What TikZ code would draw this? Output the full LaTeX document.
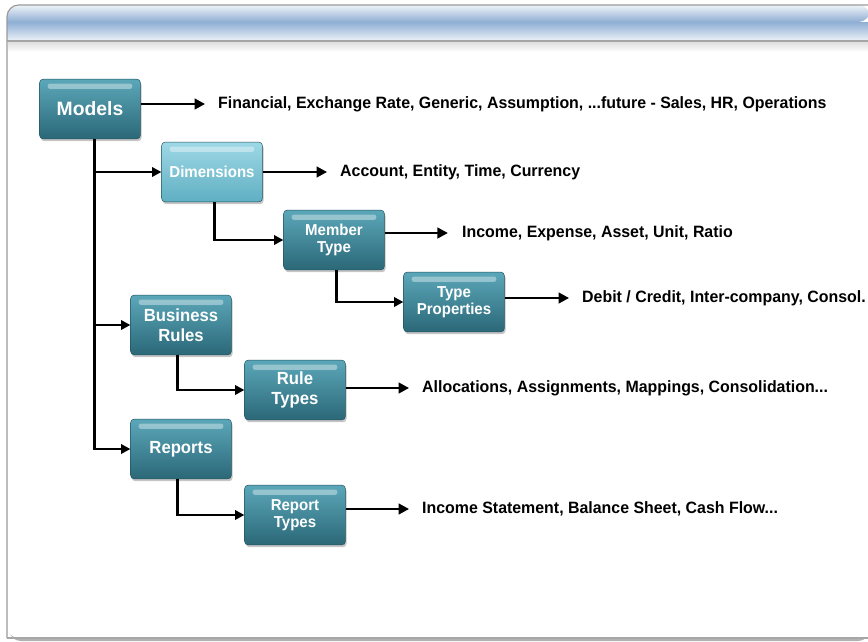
\documentclass[tikz,border=0pt]{standalone}
\usepackage{fontspec}
\setmainfont{Liberation Sans}
\newfontfamily\narrowfont[FakeStretch=0.95]{Liberation Sans}
\newfontfamily\infofont[FakeStretch=0.97]{Liberation Sans}
\usetikzlibrary{arrows.meta,shadows}

\definecolor{tealtop}{HTML}{5BA7B9}
\definecolor{tealmid}{HTML}{3C8799}
\definecolor{tealbot}{HTML}{2B6878}
\definecolor{lighttop}{HTML}{9ED8E6}
\definecolor{lightbot}{HTML}{5FAFC2}
\definecolor{headmid}{HTML}{8EAED3}

\begin{document}
\begin{tikzpicture}[x=0.03cm,y=-0.03cm,
  box/.style={rounded corners=3pt, minimum width=86pt, minimum height=51pt,
    top color=tealtop, middle color=tealmid, bottom color=tealbot,
    draw=tealbot!80!black, line width=0.4pt, align=center, text=white,
    font=\narrowfont\bfseries\fontsize{15}{17}\selectfont,
    drop shadow={shadow xshift=1pt,shadow yshift=-2pt,opacity=0.45}},
  big/.style={font=\bfseries\fontsize{16.5}{17}\selectfont},
  small/.style={font=\narrowfont\bfseries\fontsize{13.5}{14}\selectfont},
  pale/.style={top color=lighttop, middle color=lightbot!85!lighttop, bottom color=lightbot},
  gloss/.style={white, opacity=0.38, rounded corners=2pt},
  info/.style={anchor=west, inner sep=0pt, font=\infofont\bfseries\fontsize{14}{14}\selectfont},
  arr/.style={line width=2.3pt, -{Triangle[length=9pt,width=9pt]}},
  link/.style={line width=2.3pt, -{Triangle[length=8pt,width=8pt]}}]
  \useasboundingbox (0,0) rectangle (868,641);

  % slide frame and title band
  \fill[gray!60] (9,8) [rounded corners=10pt] -- (9,641) -- (870,641) -- (870,8) -- cycle;
  \fill[white] (7,5) [rounded corners=10pt] -- (7,638) [sharp corners] -- (870,638) -- (870,5) [rounded corners=10pt] -- cycle;
  \shade[top color=white!85!headmid, bottom color=headmid, rounded corners=10pt]
    (7,22) -- (7,5) -- (870,5) -- (870,22) [sharp corners] -- cycle;
  \shade[top color=headmid, bottom color=white!80!headmid]
    (7,22) rectangle (870,40);
  \draw[gray!70, line width=1pt] (7,41) -- (870,41);
  \shade[top color=gray!25, bottom color=white] (8,42) rectangle (870,52);
  \draw[gray!80, line width=1pt, rounded corners=10pt] (7,638) -- (7,5) -- (870,5);
  \draw[gray!70, line width=1.5pt] (7,638) -- (870,638);

  % boxes
  \node[box, big] (models) at (90,109) {Models};
  \node[box, small, pale] (dims) at (212,172) {Dimensions};
  \node[box, small] (mtype) at (334,240) {Member\\Type};
  \node[box, small] (tprop) at (454,302) {Type\\Properties};
  \node[box] (brules) at (181,325) {Business\\Rules};
  \node[box] (rtypes) at (295,390) {Rule\\Types};
  \node[box] (reports) at (181,449) {Reports};
  \node[box, small] (rptypes) at (295,515) {Report\\Types};

  \foreach \n in {models,dims,mtype,tprop,brules,rtypes,reports,rptypes}
    \fill[gloss] ([xshift=7pt,yshift=-4pt]\n.north west) rectangle ([xshift=-7pt,yshift=-8.5pt]\n.north east);

  % descriptions
  \node[info] (fin) at (218,104) {Financial, Exchange Rate, Generic, Assumption, ...future - Sales, HR, Operations};
  \node[info] (acc) at (340,172) {Account, Entity, Time, Currency};
  \node[info] (inc) at (462,233) {Income, Expense, Asset, Unit, Ratio};
  \node[info] (deb) at (582,298) {Debit / Credit, Inter-company, Consol.};
  \node[info] (alloc) at (422,388) {Allocations, Assignments, Mappings, Consolidation...};
  \node[info] (stmt) at (422,509) {Income Statement, Balance Sheet, Cash Flow...};

  % arrows to the texts
  \draw[arr, shorten >=11pt] (models.east |- fin.west) -- (fin.west);
  \draw[arr, shorten >=11pt] (dims.east |- acc.west) -- (acc.west);
  \draw[arr, shorten >=12pt] (mtype.east |- inc.west) -- (inc.west);
  \draw[arr, shorten >=11pt] (tprop.east |- deb.west) -- (deb.west);
  \draw[arr, shorten >=11pt] (rtypes.east |- alloc.west) -- (alloc.west);
  \draw[arr, shorten >=11pt] (rptypes.east |- stmt.west) -- (stmt.west);

  % tree links
  \draw[link] ([xshift=4pt]models.south) |- (dims.west);
  \draw[link] ([xshift=4pt]models.south) |- (brules.west);
  \draw[link] ([xshift=4pt]models.south) |- (reports.west);
  \draw[link] ([xshift=2pt]dims.south) |- (mtype.west);
  \draw[link] ([xshift=2pt]mtype.south) |- (tprop.west);
  \draw[link] ([xshift=-3pt]brules.south) |- (rtypes.west);
  \draw[link] ([xshift=-3pt]reports.south) |- (rptypes.west);
\end{tikzpicture}
\end{document}
